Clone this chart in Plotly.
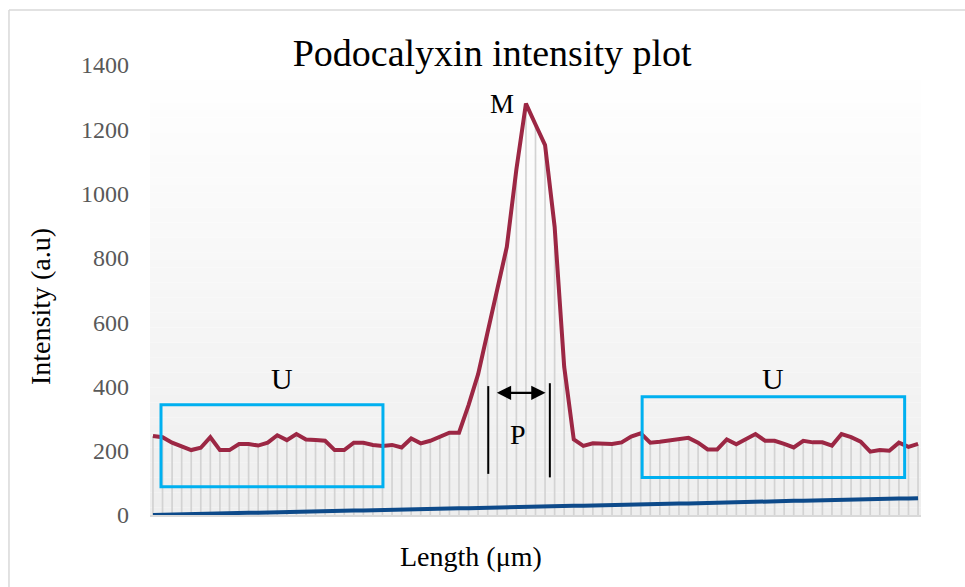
import plotly.graph_objects as go

# ---- data ----
podocalyxin = [246, 242, 225, 212, 202, 209, 242, 202, 202, 221,
               221, 216, 225, 248, 233, 252, 235, 233, 231, 202,
               202, 225, 225, 218, 215, 218, 210, 238, 223, 231,
               242, 256, 256, 342, 438, 572, 710, 834, 1075, 1280,
               1215, 1151, 897, 461, 235, 215, 223, 221, 221, 226,
               244, 254, 225, 228, 233, 236, 240, 225, 204, 204,
               235, 220, 235, 252, 231, 231, 221, 210, 231, 226,
               226, 216, 252, 242, 228, 197, 202, 200, 225, 212,
               221]
length_um = [0, 1, 1, 2, 3, 3, 4, 5, 5, 6,
             7, 7, 8, 8, 9, 10, 10, 11, 12, 12,
             13, 14, 14, 15, 16, 16, 17, 18, 18, 19,
             20, 20, 21, 21, 22, 23, 23, 24, 25, 25,
             26, 27, 27, 28, 29, 29, 30, 31, 31, 32,
             33, 33, 34, 34, 35, 36, 36, 37, 38, 38,
             39, 40, 40, 41, 42, 42, 43, 44, 44, 45,
             46, 46, 47, 47, 48, 49, 49, 50, 51, 51,
             52]
positions = list(range(len(podocalyxin)))
y_ticks = [0, 200, 400, 600, 800, 1000, 1200, 1400]

FONT = "Liberation Serif, Times New Roman, serif"
RED = "#9c2744"
BLUE = "#0d4a8a"
CYAN = "#00b0f0"

fig = go.Figure()

# drop lines (gray verticals from red line to axis)
fig.add_trace(go.Scatter(
    x=positions, y=podocalyxin, mode="lines", line=dict(width=0),
    hoverinfo="skip", showlegend=False,
    error_y=dict(type="data", symmetric=False, array=[0] * len(podocalyxin),
                 arrayminus=podocalyxin, width=0, color="#d3d3d3", thickness=1.7),
))
fig.add_trace(go.Scatter(x=positions, y=length_um, mode="lines",
                         line=dict(color=BLUE, width=4), showlegend=False))
fig.add_trace(go.Scatter(x=positions, y=podocalyxin, mode="lines",
                         line=dict(color=RED, width=4), showlegend=False))

shapes = []
# vertical gradient background of plot area
N = 60
for k in range(N):
    t = (k + 0.5) / N  # 0 top -> 1 bottom
    c = int(round(255 - (255 - 238) * t))
    shapes.append(dict(type="rect", xref="paper", yref="paper",
                       x0=0, x1=1, y0=1 - (k + 1) / N, y1=1 - k / N,
                       fillcolor=f"rgb({c},{c},{c})", line=dict(width=0), layer="below"))
# outer frame
shapes.append(dict(type="line", xref="paper", yref="paper", x0=-0.1829, x1=-0.1829,
                   y0=1.1222, y1=-0.25, line=dict(color="#d9d9d9", width=1.5)))
shapes.append(dict(type="line", xref="paper", yref="paper", x0=-0.1829, x1=1.1,
                   y0=1.1222, y1=1.1222, line=dict(color="#d9d9d9", width=1.5)))
# cyan boxes
shapes.append(dict(type="rect", xref="x", yref="y", x0=0.84, x1=24.05, y0=88, y1=343,
                   line=dict(color=CYAN, width=3)))
shapes.append(dict(type="rect", xref="x", yref="y", x0=51.15, x1=78.6, y0=117, y1=368,
                   line=dict(color=CYAN, width=3)))
# P marker lines
shapes.append(dict(type="line", xref="x", yref="y", x0=35.06, x1=35.06, y0=128, y1=401,
                   line=dict(color="black", width=2)))
shapes.append(dict(type="line", xref="x", yref="y", x0=41.5, x1=41.5, y0=117, y1=410,
                   line=dict(color="black", width=2)))

annotations = [
    dict(text="U", x=13.5, y=426, xref="x", yref="y", showarrow=False,
         font=dict(family=FONT, size=30, color="black")),
    dict(text="U", x=64.8, y=426, xref="x", yref="y", showarrow=False,
         font=dict(family=FONT, size=30, color="black")),
    dict(text="M", x=36.5, y=1279, xref="x", yref="y", showarrow=False,
         font=dict(family=FONT, size=27, color="black")),
    dict(text="P", x=38.2, y=249, xref="x", yref="y", showarrow=False,
         font=dict(family=FONT, size=28, color="black")),
    dict(text="", x=41.05, y=380, ax=35.8, ay=380, xref="x", yref="y",
         axref="x", ayref="y", showarrow=True, arrowhead=2, arrowside="end+start",
         arrowsize=1.3, arrowwidth=2.2, arrowcolor="black"),
    dict(text="Intensity (a.u)", x=-0.1427, y=0.4644, xref="paper", yref="paper",
         xanchor="center", yanchor="middle",
         textangle=-90, showarrow=False, font=dict(family=FONT, size=28, color="black")),
    dict(text="Length (μm)", x=0.4163, y=-0.0933, xref="paper", yref="paper",
         xanchor="center", yanchor="middle",
         showarrow=False, font=dict(family=FONT, size=28, color="black")),
]

fig.update_layout(
    width=965, height=587,
    margin=dict(l=150, r=44, t=65, b=72),
    paper_bgcolor="white", plot_bgcolor="white",
    title=dict(text="Podocalyxin intensity plot", x=0.51, xanchor="center",
               y=0.9097, yanchor="middle", font=dict(family=FONT, size=38, color="black")),
    showlegend=False,
    shapes=shapes, annotations=annotations,
    xaxis=dict(range=[-0.31, 80.31], showticklabels=False, showgrid=False,
               zeroline=False, showline=True, linecolor="#d9d9d9", linewidth=1.5,
               ticks=""),
    yaxis=dict(range=[0, 1400], tickvals=y_ticks, showgrid=False, zeroline=False,
               showline=False, ticks="", ticklabelstandoff=20,
               tickfont=dict(family=FONT, size=24, color="#595959")),
)

fig.write_html("out.html")
